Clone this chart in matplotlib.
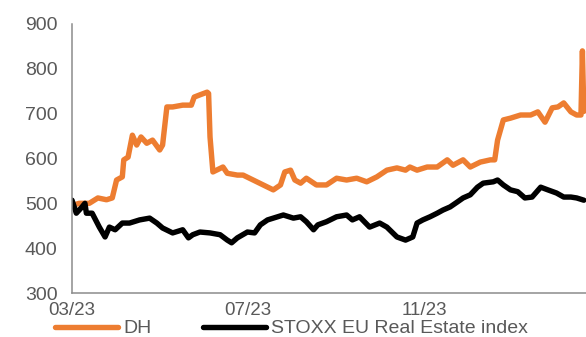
import matplotlib
matplotlib.use("Agg")
import matplotlib.pyplot as plt
import matplotlib.dates as mdates
import pandas as pd

plt.rcParams['font.family'] = ['Liberation Sans', 'DejaVu Sans']

dh_dates = ["2023-03-01", "2023-03-06", "2023-03-13", "2023-03-19", "2023-03-25", "2023-03-29",
            "2023-04-01", "2023-04-05", "2023-04-06", "2023-04-09", "2023-04-12", "2023-04-15",
            "2023-04-18", "2023-04-22", "2023-04-26", "2023-05-01", "2023-05-03", "2023-05-06",
            "2023-05-10", "2023-05-17", "2023-05-23", "2023-05-25", "2023-05-29", "2023-06-03",
            "2023-06-04", "2023-06-05", "2023-06-07", "2023-06-14", "2023-06-17", "2023-06-24",
            "2023-06-28", "2023-07-05", "2023-07-12", "2023-07-19", "2023-07-24", "2023-07-27",
            "2023-07-31", "2023-08-03", "2023-08-07", "2023-08-11", "2023-08-18", "2023-08-25",
            "2023-09-01", "2023-09-08", "2023-09-15", "2023-09-22", "2023-09-29", "2023-10-06",
            "2023-10-13", "2023-10-19", "2023-10-22", "2023-10-27", "2023-11-03", "2023-11-10",
            "2023-11-17", "2023-11-21", "2023-11-28", "2023-12-03", "2023-12-10", "2023-12-17",
            "2023-12-20", "2023-12-22", "2023-12-26", "2023-12-31", "2024-01-07", "2024-01-14",
            "2024-01-19", "2024-01-24", "2024-01-29", "2024-02-02", "2024-02-06", "2024-02-11",
            "2024-02-15", "2024-02-18", "2024-02-19", "2024-02-20"]
dh_values = [495, 500, 500, 512, 508, 512,
             552, 559, 597, 603, 652, 630,
             648, 634, 641, 619, 630, 715,
             715, 719, 719, 737, 742, 748,
             745, 648, 570, 581, 567, 563,
             563, 552, 541, 530, 541, 570,
             574, 552, 545, 556, 541, 541,
             556, 552, 556, 548, 559, 574,
             579, 574, 581, 574, 581, 581,
             597, 585, 597, 581, 592, 597,
             597, 641, 686, 690, 697, 697,
             704, 681, 713, 715, 724, 704,
             697, 697, 840, 705]

stoxx_dates = ["2023-03-01", "2023-03-04", "2023-03-08", "2023-03-10", "2023-03-11", "2023-03-15",
               "2023-03-20", "2023-03-24", "2023-03-27", "2023-03-31", "2023-04-05", "2023-04-10",
               "2023-04-17", "2023-04-24", "2023-04-29", "2023-05-03", "2023-05-10", "2023-05-17",
               "2023-05-21", "2023-05-24", "2023-05-29", "2023-06-05", "2023-06-12", "2023-06-17",
               "2023-06-20", "2023-06-24", "2023-07-01", "2023-07-06", "2023-07-10", "2023-07-15",
               "2023-07-22", "2023-07-26", "2023-08-02", "2023-08-07", "2023-08-11", "2023-08-16",
               "2023-08-19", "2023-08-25", "2023-09-01", "2023-09-08", "2023-09-12", "2023-09-17",
               "2023-09-24", "2023-10-01", "2023-10-06", "2023-10-13", "2023-10-19", "2023-10-24",
               "2023-10-27", "2023-10-31", "2023-11-05", "2023-11-10", "2023-11-14", "2023-11-19",
               "2023-11-24", "2023-11-28", "2023-12-03", "2023-12-08", "2023-12-12", "2023-12-19",
               "2023-12-22", "2023-12-26", "2023-12-31", "2024-01-05", "2024-01-10", "2024-01-15",
               "2024-01-21", "2024-01-26", "2024-02-01", "2024-02-06", "2024-02-11", "2024-02-15",
               "2024-02-20"]
stoxx_values = [507, 478, 492, 500, 478, 478,
                447, 425, 447, 441, 456, 456,
                463, 467, 456, 445, 434, 441,
                423, 430, 436, 434, 430, 418,
                412, 423, 436, 434, 452, 463,
                470, 474, 467, 470, 459, 441,
                452, 459, 470, 474, 463, 470,
                447, 456, 447, 425, 418, 425,
                456, 463, 470, 478, 485, 492,
                503, 512, 519, 536, 545, 548,
                552, 541, 530, 526, 512, 514,
                536, 530, 523, 514, 514, 512,
                507]

series_labels = ["DH", "STOXX EU Real Estate index"]
y_ticks = [300, 400, 500, 600, 700, 800, 900]
x_tick_dates = ["2023-03-01", "2023-07-01", "2023-11-01"]

orange = "#ED7D31"
grey_text = "#595959"
grey_axis = "#8C8C8C"

fig = plt.figure(figsize=(5.86, 3.37), dpi=100)
ax = fig.add_axes([72/586, 1-293/337, 1-72/586, (293-24)/337])

ax.plot(pd.to_datetime(dh_dates), dh_values, color=orange, lw=3.9,
        solid_joinstyle='round', solid_capstyle='round', label=series_labels[0])
ax.plot(pd.to_datetime(stoxx_dates), stoxx_values, color="black", lw=3.9,
        solid_joinstyle='round', solid_capstyle='round', label=series_labels[1])

ax.set_ylim(300, 900)
ax.set_yticks(y_ticks)
ax.set_xlim(pd.Timestamp("2023-03-01"), pd.Timestamp("2024-02-21 12:00"))
ax.set_xticks(pd.to_datetime(x_tick_dates))
ax.xaxis.set_major_formatter(mdates.DateFormatter("%m/%y"))

for s in ["top", "right"]:
    ax.spines[s].set_visible(False)
for s in ["left", "bottom"]:
    ax.spines[s].set_color(grey_axis)
    ax.spines[s].set_linewidth(1.1)

ax.tick_params(axis='y', length=0, pad=10.5, labelsize=14, labelcolor=grey_text)
ax.tick_params(axis='x', length=0, pad=6.5, labelsize=13.5, labelcolor=grey_text)

fs_leg = 14
em = fs_leg * 100 / 72
leg = ax.legend(loc='center left', bbox_to_anchor=(55/586, 1-328.5/337),
                bbox_transform=fig.transFigure, ncol=2, frameon=False,
                fontsize=fs_leg, labelcolor=grey_text, handlelength=63/em,
                handletextpad=5/em, columnspacing=52/em, borderpad=0, borderaxespad=0)
for line in leg.get_lines():
    line.set_linewidth(3.9)
    line.set_solid_capstyle('round')

fig.savefig("out.png", dpi=100)
